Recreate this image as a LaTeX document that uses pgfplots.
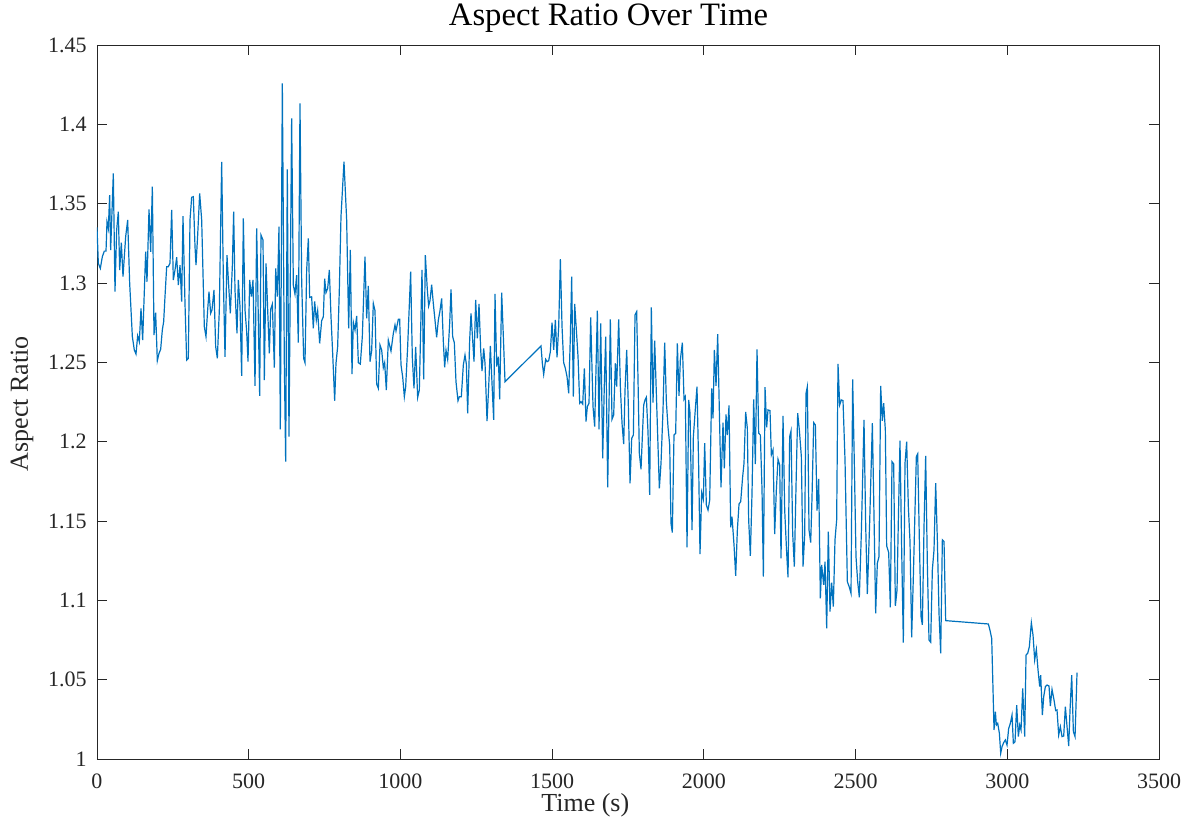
\documentclass[border=0pt]{standalone}
\usepackage{fontspec}
\setmainfont{Liberation Serif}
\usepackage{pgfplots}
\pgfplotsset{compat=1.18}
\definecolor{mlblue}{RGB}{0,114,189}
\definecolor{axgray}{RGB}{38,38,38}
\begin{document}
\begin{tikzpicture}
\useasboundingbox (-72.75pt,-54pt) rectangle (821.25pt,569.25pt);
\begin{axis}[
  scale only axis,
  width=796.5pt, height=535.5pt,
  xmin=0, xmax=3500, ymin=1, ymax=1.45,
  xtick={0,500,1000,1500,2000,2500,3000,3500},
  xticklabels={0,500,1000,1500,2000,2500,3000,3500},
  ytick={1,1.05,1.1,1.15,1.2,1.25,1.3,1.35,1.4,1.45},
  yticklabels={1,1.05,1.1,1.15,1.2,1.25,1.3,1.35,1.4,1.45},
  tick align=inside,
  xtick pos=both, ytick pos=both,
  major tick length=7.5pt,
  axis line style={axgray, line width=0.6pt},
  every tick/.style={axgray, line width=0.6pt},
  xticklabel style={font=\fontsize{16.5}{20}\selectfont, text=axgray, anchor=base, inner sep=0pt, yshift=-22.5pt},
  yticklabel style={font=\fontsize{16.5}{20}\selectfont, text=axgray, anchor=east, inner sep=0pt, xshift=-7.5pt},
  xlabel={Time (s)},
  ylabel={Aspect Ratio},
  title={Aspect Ratio Over Time},
  every axis title shift=0pt,
  xlabel style={at={(axis description cs:0.4598,-0.0742)}, anchor=base, inner sep=0pt, font=\fontsize{19.5}{23}\selectfont, text=axgray},
  ylabel style={at={(axis description cs:-0.0650,0.4975)}, anchor=base, inner sep=0pt, font=\fontsize{19.5}{23}\selectfont, text=axgray},
  title style={at={(axis description cs:0.4816,1.028)}, anchor=base, inner sep=0pt, font=\fontsize{24.5}{28}\selectfont, text=black},
]
\addplot[mlblue, line width=0.9pt, mark=none] coordinates {
(0,1.335) (4.4,1.3124) (11.0,1.3092) (17.6,1.3166) (24.2,1.3201) (29.7,1.3201) (33.0,1.3386) (37.4,1.3344) (41.7,1.3554) (45.0,1.3208)
(53.8,1.3691) (59.3,1.2945) (64.8,1.3334) (70.3,1.3449) (74.7,1.3082) (80.2,1.3254) (85.7,1.3040) (94.5,1.3292) (101.1,1.3397) (107.7,1.2998)
(116.5,1.2662) (123.0,1.2578) (128.5,1.2552) (134.0,1.2668) (139.5,1.2630) (145.0,1.2840) (150.5,1.2640) (160.4,1.3197) (164.8,1.3008) (171.4,1.3464)
(176.9,1.3197) (182.4,1.3607) (187.9,1.2672) (193.3,1.2813) (198.8,1.2510) (204.3,1.2556) (209.8,1.2582) (215.3,1.2704) (219.7,1.2756) (224.1,1.2914)
(229.6,1.3103) (235.1,1.3103) (240.6,1.3124) (246.1,1.3460) (251.6,1.3019) (257.1,1.3082) (262.6,1.3162) (268.1,1.2987) (273.6,1.3113) (279.0,1.2882)
(283.4,1.3422) (290.0,1.2872) (295.5,1.2514) (301.0,1.2525) (306.5,1.3397) (312.0,1.3540) (317.5,1.3544) (323.0,1.3229) (326.3,1.3113) (331.8,1.3302)
(338.4,1.3565) (345.0,1.3397) (353.7,1.2725) (359.2,1.2662) (364.7,1.2830) (369.1,1.2945) (374.6,1.2809) (379.0,1.2830) (385.6,1.2956) (391.1,1.2599)
(396.6,1.2525) (403.2,1.2830) (410.9,1.3764) (416.4,1.3029) (421.9,1.2535) (428.4,1.3176) (432.9,1.3019) (439.4,1.2809) (446.0,1.3103) (450.4,1.3449)
(454.8,1.2956) (461.4,1.2683) (465.8,1.3019) (471.3,1.2851) (476.8,1.2414) (482.3,1.3407) (487.8,1.2830) (493.3,1.2693) (497.7,1.2504) (503.2,1.3019)
(508.7,1.2914) (514.2,1.3019) (520.8,1.2351) (526.2,1.3344) (529.5,1.3008) (536.1,1.2288) (540.5,1.3302) (547.1,1.3271) (551.5,1.2388) (557.0,1.3124)
(562.5,1.2830) (568.0,1.2556) (572.4,1.2834) (577.9,1.2867) (584.5,1.2466) (588.9,1.3092) (594.4,1.2914) (599.8,1.3355)
(604.2,1.2077) (610.8,1.4258) (617.4,1.2493) (621.8,1.1874) (627.2,1.3716) (632.7,1.2031) (641.5,1.4037) (647.0,1.2987) (652.5,1.2930) (658.0,1.3050)
(663.5,1.2624) (669.0,1.4132) (674.5,1.3018) (681.1,1.2525) (685.5,1.2498) (691.0,1.3082) (696.5,1.3281) (700.9,1.2909) (707.4,1.2913) (712.9,1.2714)
(717.3,1.2884) (722.8,1.2766) (727.2,1.2825) (733.8,1.2619) (740.4,1.2762) (745.9,1.2787) (750.3,1.3027) (754.7,1.2939) (760.2,1.2966) (765.7,1.3082)
(771.2,1.2787) (776.7,1.2556) (783.3,1.2258) (787.6,1.2493) (793.1,1.2598) (798.6,1.2955) (804.1,1.3418) (814.0,1.3764) (822.8,1.3397) (829.4,1.2714)
(834.9,1.3208) (840.4,1.2426) (844.8,1.2752) (850.3,1.2703) (855.8,1.2792) (861.3,1.2498) (867.8,1.2489) (874.4,1.2661) (883.2,1.3166) (888.7,1.2777)
(894.2,1.2981) (899.7,1.2504) (905.2,1.2573) (910.7,1.2871) (916.2,1.2825) (921.7,1.2363) (927.2,1.2336) (932.7,1.2609) (938.2,1.2577) (943.6,1.2466)
(948.0,1.2498) (953.5,1.2325) (960.1,1.2640) (968.9,1.2571) (976.6,1.2682) (982.1,1.2735) (985.4,1.2699) (993.1,1.2771) (997.5,1.2771) (1001.9,1.2483)
(1007.4,1.2409) (1012.9,1.2283) (1017.3,1.2346) (1023.8,1.2598) (1033.7,1.3071) (1039.2,1.2529) (1044.7,1.2336) (1050.2,1.2598) (1056.8,1.2279) (1062.3,1.2325)
(1071.1,1.3082) (1076.6,1.2392) (1082.1,1.3176) (1088.7,1.2955) (1093.0,1.2855) (1097.4,1.2888) (1102.9,1.2989) (1108.4,1.2871) (1113.9,1.2766) (1119.4,1.2657)
(1124.9,1.2766) (1130.4,1.2825) (1135.9,1.2903) (1141.4,1.2630) (1145.8,1.2468) (1150.2,1.2577) (1155.7,1.2518) (1162.3,1.2745) (1166.7,1.2960) (1172.2,1.2661)
(1177.6,1.2624) (1183.1,1.2378) (1189.7,1.2258) (1194.1,1.2283) (1200.7,1.2283) (1207.3,1.2483) (1212.8,1.2546)
(1217.3,1.2489) (1221.6,1.2179) (1228.2,1.2641) (1232.6,1.2809) (1238.1,1.2641) (1242.5,1.2504) (1248.0,1.2893) (1253.5,1.2651) (1259.0,1.2868) (1264.5,1.2578)
(1268.9,1.2445) (1274.4,1.2588) (1278.8,1.2494) (1285.4,1.2130) (1290.9,1.2347) (1296.4,1.2603) (1301.8,1.2368) (1307.3,1.2137) (1311.7,1.2931) (1317.2,1.2473)
(1322.7,1.2536) (1327.1,1.2267) (1333.7,1.2939) (1339.2,1.2662) (1344.7,1.2378)
(1463.3,1.2603) (1467.7,1.2494) (1472.1,1.2424) (1478.7,1.2519) (1483.1,1.2504) (1488.6,1.2510) (1494.1,1.2567) (1499.6,1.2750) (1505.1,1.2578) (1510.6,1.2767)
(1516.1,1.2532) (1521.6,1.2725) (1527.1,1.3151) (1532.6,1.2725) (1538.0,1.2498) (1543.5,1.2462) (1549.0,1.2410) (1554.5,1.2305) (1560.0,1.2662) (1564.4,1.3040)
(1569.9,1.2284) (1574.3,1.2868) (1579.8,1.2704) (1585.3,1.2536) (1590.8,1.2242) (1595.2,1.2252) (1600.7,1.2237) (1606.2,1.2462) (1611.6,1.2126) (1616.0,1.2221)
(1621.5,1.2242) (1627.0,1.2784) (1634.7,1.2221) (1640.2,1.2095) (1649.0,1.2826) (1654.5,1.2078) (1660.0,1.2746) (1666.6,1.1895) (1672.1,1.2368) (1676.5,1.2662)
(1683.1,1.1712) (1691.8,1.2771) (1697.3,1.2141) (1702.8,1.2168) (1708.3,1.2494) (1712.7,1.2347) (1719.3,1.2771) (1724.8,1.2347) (1730.3,1.2116) (1735.8,1.1985)
(1740.2,1.2326) (1745.7,1.2578) (1751.2,1.2221) (1756.7,1.1737) (1762.2,1.2021) (1767.7,1.2042) (1773.1,1.2798) (1778.6,1.2819) (1783.0,1.2389) (1787.4,1.1926)
(1792.9,1.1826) (1797.3,1.2032) (1801.7,1.2231) (1806.1,1.2263) (1810.5,1.2280)
(1815.9,1.2063) (1821.4,1.1664) (1826.9,1.2847) (1832.4,1.2246) (1837.9,1.2637) (1843.4,1.2305) (1853.3,1.1706) (1858.8,1.1864) (1865.4,1.2200) (1870.9,1.2624)
(1876.4,1.2252) (1881.9,1.2091) (1887.4,1.1979) (1891.7,1.1485) (1896.1,1.1427) (1901.6,1.2042) (1907.1,1.2053) (1912.6,1.2620) (1918.1,1.2288) (1922.5,1.2515)
(1929.1,1.2624) (1934.6,1.2267) (1939.0,1.2284) (1944.5,1.1334) (1950.0,1.2263) (1954.4,1.2179) (1961.0,1.1443) (1965.4,1.2032) (1970.9,1.2179) (1977.4,1.2347)
(1982.9,1.1843) (1987.3,1.1292) (1992.8,1.1679) (1998.3,1.1637) (2002.7,1.1990) (2008.2,1.1601) (2013.7,1.1569) (2019.2,1.1632) (2025.8,1.2336) (2030.2,1.2147)
(2034.6,1.2578) (2040.1,1.2351) (2045.6,1.2677) (2051.0,1.2200) (2056.5,1.1712) (2063.1,1.2120) (2067.5,1.1832) (2073.0,1.2172) (2077.4,1.2042) (2082.9,1.2229)
(2088.4,1.1460) (2092.8,1.1527) (2099.4,1.1349) (2104.9,1.1154) (2110.4,1.1443) (2115.9,1.1607) (2121.4,1.1622) (2127.9,1.1780) (2132.3,1.1864) (2137.8,1.2187)
(2143.3,1.2084) (2147.7,1.1506) (2153.2,1.1280) (2158.7,1.1675) (2164.2,1.2267) (2169.7,1.1859) (2175.2,1.2582) (2180.7,1.2053) (2186.2,1.2042) (2191.7,1.1696)
(2196.1,1.1149) (2201.6,1.2343) (2207.0,1.2091) (2211.4,1.2200) (2218.0,1.2196) (2222.4,1.1916) (2227.9,1.1948) (2233.4,1.1418) (2238.9,1.1696) (2244.4,1.1889)
(2249.9,1.1853) (2254.3,1.1265) (2260.9,1.2162) (2266.4,1.1569) (2273.0,1.1296) (2277.4,1.1145) (2282.8,1.2032) (2287.2,1.2067) (2292.7,1.1422) (2298.2,1.1212)
(2303.7,1.1717) (2309.2,1.2179) (2314.7,1.2074) (2321.3,1.1906) (2326.8,1.1212) (2332.3,1.1412) (2336.7,1.2305) (2341.1,1.2347) (2346.6,1.1443) (2352.1,1.1364)
(2356.5,1.1654) (2362.0,1.2120) (2367.5,1.2105) (2373.0,1.1565) (2378.4,1.1765) (2383.9,1.1013) (2388.3,1.1223) (2394.9,1.1097) (2399.3,1.1244)
(2404.8,1.0824) (2410.2,1.1433) (2415.7,1.0929) (2421.2,1.1112) (2426.7,1.0960) (2432.2,1.1381) (2437.7,1.1507) (2442.1,1.2490) (2447.6,1.2231) (2453.1,1.2263)
(2458.6,1.2259) (2465.2,1.1885) (2472.9,1.1118) (2479.5,1.1082) (2485.0,1.1044) (2490.4,1.2393) (2495.9,1.1864) (2501.4,1.1276) (2506.9,1.1118) (2512.4,1.1019)
(2519.0,1.1423) (2527.8,1.2137) (2533.3,1.1475) (2538.8,1.1040) (2546.5,1.1496) (2555.3,1.2116) (2561.9,1.1406) (2566.2,1.0918) (2571.7,1.1233) (2577.2,1.1276)
(2582.7,1.2351) (2588.2,1.2131) (2592.6,1.2242) (2598.1,1.2074) (2602.5,1.1343) (2609.1,1.1301) (2614.6,1.0956) (2620.1,1.1874) (2625.6,1.1860) (2631.1,1.0965)
(2636.6,1.1065) (2641.0,1.1507) (2646.4,1.2007) (2651.9,1.1322) (2657.4,1.0734) (2662.9,1.1864) (2668.4,1.2000) (2673.9,1.1591) (2679.4,1.1370) (2684.9,1.0767)
(2690.4,1.1149) (2695.9,1.1570) (2700.3,1.1906) (2704.7,1.1923) (2710.2,1.1381) (2715.7,1.0897) (2720.1,1.0845) (2725.6,1.1465) (2731.0,1.1910) (2736.5,1.1233)
(2742.0,1.0750) (2747.5,1.0736) (2753.0,1.1191) (2758.5,1.1318) (2764.0,1.1738) (2769.5,1.1381) (2775.0,1.0918) (2780.5,1.0666) (2786.0,1.1381) (2791.5,1.1370)
(2797.0,1.0872) (2937.6,1.0851) (2943.1,1.0810) (2948.6,1.0760)
(2953.0,1.0435) (2956.3,1.0183) (2960.7,1.0298) (2964.0,1.0214) (2968.4,1.0225) (2973.9,1.0162) (2978.3,1.0036) (2982.7,1.0078) (2988.1,1.0103) (2993.6,1.0120)
(2999.1,1.0088) (3004.6,1.0193) (3010.1,1.0225) (3015.6,1.0277) (3020.0,1.0099) (3025.5,1.0109) (3031.0,1.0340) (3036.5,1.0141) (3040.9,1.0214) (3045.3,1.0183)
(3050.8,1.0445) (3057.4,1.0141) (3061.8,1.0655) (3067.2,1.0666) (3072.7,1.0708) (3079.3,1.0859) (3084.8,1.0781) (3090.3,1.0624) (3095.8,1.0691) (3101.3,1.0561)
(3106.8,1.0456) (3110.1,1.0529) (3115.6,1.0277) (3120.0,1.0393) (3125.5,1.0456) (3131.0,1.0466) (3137.5,1.0460) (3141.9,1.0334) (3147.4,1.0439) (3154.0,1.0372)
(3159.5,1.0305) (3163.9,1.0309) (3169.4,1.0151) (3174.9,1.0204) (3180.4,1.0141) (3185.9,1.0145) (3191.4,1.0330) (3196.9,1.0204) (3202.4,1.0082) (3206.8,1.0309)
(3212.3,1.0529) (3217.8,1.0172) (3223.3,1.0141) (3229.8,1.0544)
};
\end{axis}
\end{tikzpicture}
\end{document}
